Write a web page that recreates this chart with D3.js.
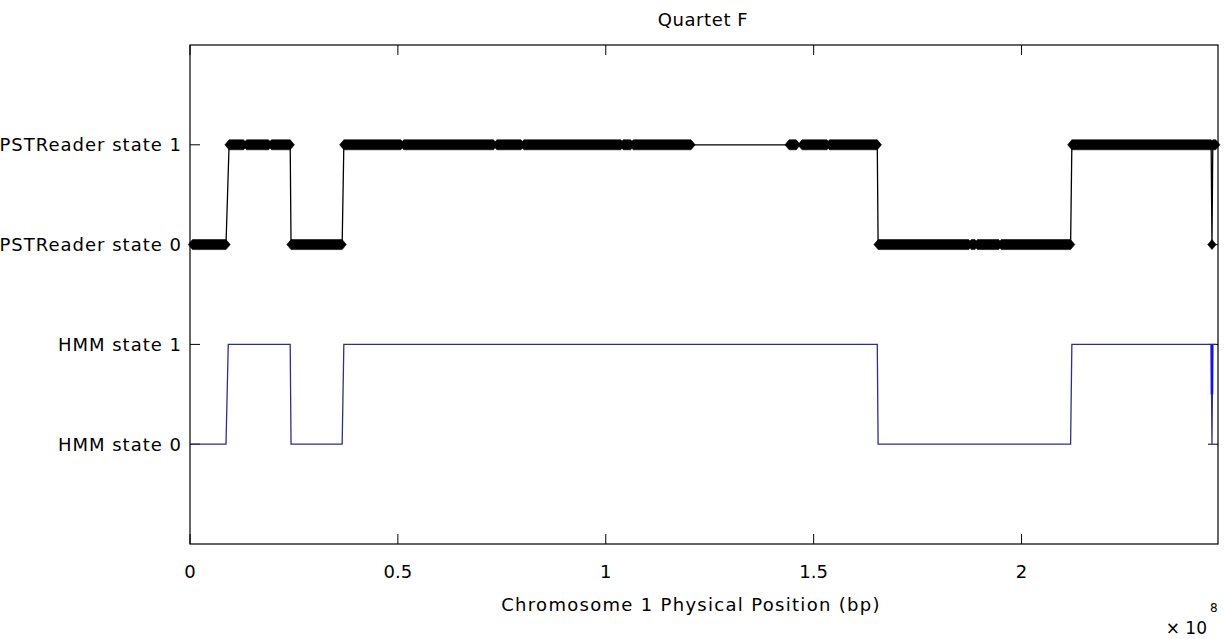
<!DOCTYPE html>
<html>
<head>
<meta charset="utf-8">
<script src="https://cdn.jsdelivr.net/npm/d3@7"></script>
<style>
  html, body { margin: 0; padding: 0; background: #fff; }
  svg text { font-family: "DejaVu Sans", sans-serif; fill: #000; }
</style>
</head>
<body>
<svg id="chart" width="1224" height="639"></svg>
<script>
// ---------------- data (positions in Mb on chromosome 1) ----------------
const chromLengthMb = 247.249719;
const titleText = "Quartet F";
const xLabelText = "Chromosome 1 Physical Position (bp)";
const xTickValues = [0, 50, 100, 150, 200];
const xTickLabels = ["0", "0.5", "1", "1.5", "2"];
const yTickValues = [0, 1, 2, 3];
const yTickLabels = ["HMM state 0", "HMM state 1", "PSTReader state 0", "PSTReader state 1"];

// PSTReader: runs of dense SNP markers (start, end, state)
const pstRunStart = [0.6, 9.4, 13.6, 19.6, 24.3, 37.0, 51.4, 73.8, 80.3, 104.2, 106.6, 144.1, 147.2, 153.8, 165.5, 187.9, 189.4, 195.1, 212.1, 245.8, 246.0];
const pstRunEnd   = [8.66, 12.9, 18.9, 24.1, 36.6, 50.7, 73.0, 79.6, 103.6, 106.0, 120.5, 145.8, 153.2, 165.3, 187.3, 188.8, 194.5, 211.8, 245.6, 245.8, 246.7];
const pstRunState = [0, 1, 1, 1, 0, 1, 1, 1, 1, 1, 1, 1, 1, 1, 0, 0, 0, 0, 1, 0, 1];

// HMM state path (position, state)
const hmmPos   = [0.2, 8.66, 9.2, 24.1, 24.3, 36.6, 37.0, 165.3, 165.5, 211.8, 212.1, 245.6, 245.8, 246.0, 246.7];
const hmmState = [0, 0, 1, 1, 0, 0, 1, 1, 0, 0, 1, 1, 0, 1, 1];
// short highlighted HMM segment near the chromosome end
const hmmBlipPos = [245.8, 245.8];
const hmmBlipState = [1, 0.5];

// ---------------- layout ----------------
const svg = d3.select("#chart");
const L = 190, R = 1218, T = 45, B = 544;
const x = d3.scaleLinear().domain([0, chromLengthMb]).range([L, R]);
const y = d3.scaleLinear().domain([-1, 4]).range([B, T]);
// PST states are plotted at offset 2 above HMM states
const pstOffset = 2;

// ---------------- axes frame ----------------
const g = svg.append("g");
g.append("rect").attr("x", L).attr("y", T).attr("width", R - L).attr("height", B - T)
  .attr("fill", "none").attr("stroke", "#000").attr("stroke-width", 1.2);

const tickLen = 10;
const xt = g.selectAll(".xt").data(xTickValues).enter();
xt.append("line").attr("x1", d => x(d)).attr("x2", d => x(d)).attr("y1", B).attr("y2", B - tickLen).attr("stroke", "#000");
xt.append("line").attr("x1", d => x(d)).attr("x2", d => x(d)).attr("y1", T).attr("y2", T + tickLen).attr("stroke", "#000");
g.selectAll(".xl").data(xTickValues).enter().append("text")
  .attr("x", d => x(d)).attr("y", 578).attr("text-anchor", "middle")
  .attr("font-size", 18).text((d, i) => xTickLabels[i]);

const yt = g.selectAll(".yt").data(yTickValues).enter();
yt.append("line").attr("x1", L).attr("x2", L + tickLen).attr("y1", d => y(d)).attr("y2", d => y(d)).attr("stroke", "#000");
yt.append("line").attr("x1", R).attr("x2", R - tickLen).attr("y1", d => y(d)).attr("y2", d => y(d)).attr("stroke", "#000");
g.selectAll(".yl").data(yTickValues).enter().append("text")
  .attr("x", 182).attr("y", d => y(d)).attr("dy", "0.35em").attr("text-anchor", "end")
  .attr("font-size", 18).attr("letter-spacing", 1.0).text((d, i) => yTickLabels[i]);

// ---------------- HMM line ----------------
const hmmData = hmmPos.map((p, i) => [p, hmmState[i]]);
const line = d3.line().x(d => x(d[0])).y(d => y(d[1]));
svg.append("path").datum(hmmData).attr("d", line)
  .attr("fill", "none").attr("stroke", "#2e2e8e").attr("stroke-width", 1.3);
svg.append("path").datum(hmmBlipPos.map((p, i) => [p, hmmBlipState[i]])).attr("d", line)
  .attr("fill", "none").attr("stroke", "#1414e6").attr("stroke-width", 2.6);

// ---------------- PSTReader line + markers ----------------
const pstPts = [];
pstRunStart.forEach((s, i) => {
  pstPts.push([s, pstRunState[i] + pstOffset]);
  if (pstRunEnd[i] !== s) pstPts.push([pstRunEnd[i], pstRunState[i] + pstOffset]);
});
svg.append("path").datum(pstPts).attr("d", line)
  .attr("fill", "none").attr("stroke", "#000").attr("stroke-width", 1.3);

const hh = 5, tip = 4.2;
svg.selectAll(".run").data(pstRunStart.map((s, i) => ({ s, e: pstRunEnd[i], st: pstRunState[i] + pstOffset })))
  .enter().append("path")
  .attr("d", d => {
    const x0 = x(d.s), x1 = x(d.e), yc = y(d.st);
    return `M${x0 - tip},${yc} L${x0},${yc - hh} L${x1},${yc - hh} L${x1 + tip},${yc} L${x1},${yc + hh} L${x0},${yc + hh} Z`;
  })
  .attr("fill", "#000").attr("stroke", "#000").attr("stroke-width", 0.6);

// ---------------- titles ----------------
svg.append("text").attr("x", 703).attr("y", 26).attr("text-anchor", "middle")
  .attr("font-size", 18).attr("letter-spacing", 0.6).text(titleText);
svg.append("text").attr("x", 691).attr("y", 611).attr("text-anchor", "middle")
  .attr("font-size", 18).attr("letter-spacing", 1.3).text(xLabelText);
svg.append("text").attr("x", 1207).attr("y", 634).attr("text-anchor", "end")
  .attr("font-size", 17).text("× 10");
svg.append("text").attr("x", 1210).attr("y", 612)
  .attr("font-size", 12).text("8");
</script>
</body>
</html>
